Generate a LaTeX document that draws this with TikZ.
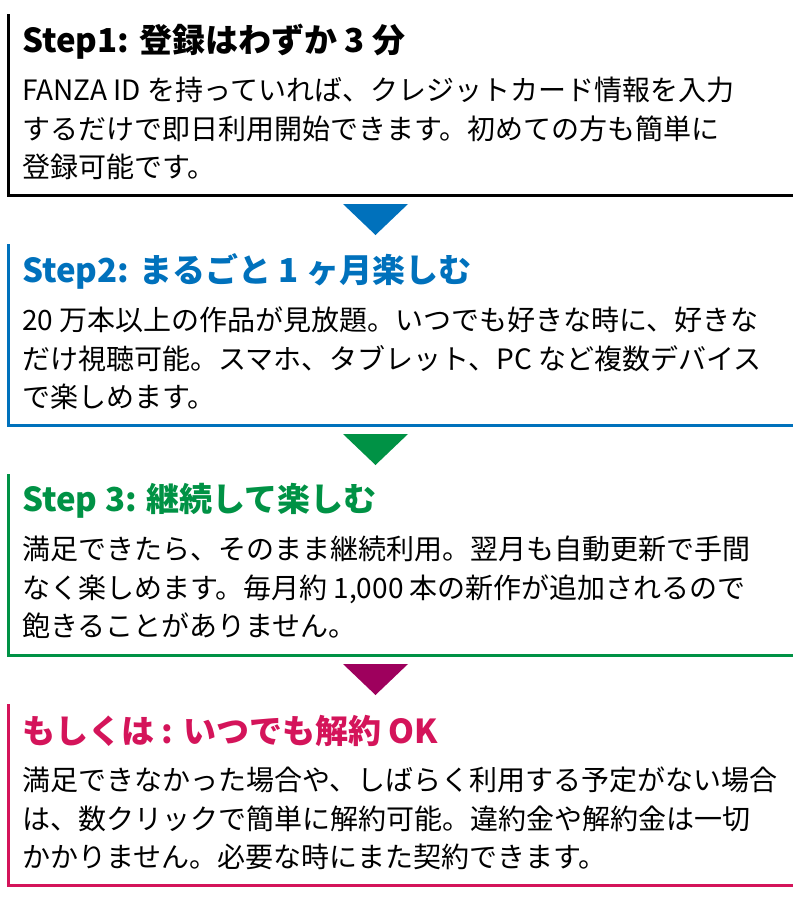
\documentclass[tikz,border=0pt]{standalone}
\usepackage{fontspec}
\setmainfont{Noto Sans CJK JP}
\usetikzlibrary{positioning}
\definecolor{stepblue}{HTML}{0071BC}
\definecolor{stepgreen}{HTML}{009245}
\definecolor{steppurple}{HTML}{9E005D}
\definecolor{steppink}{HTML}{D4145A}
\tikzset{
  steptitle/.style={anchor=west, inner sep=0pt, font=\bfseries\fontsize{33}{38}\selectfont},
  stepbody/.style={anchor=north west, inner sep=0pt, align=left, font=\fontsize{28}{38.5}\selectfont},
  stepframe/.style={line width=3pt, line cap=rect}
}

\begin{document}
\begin{tikzpicture}[x=1pt,y=-1pt]
            \useasboundingbox (0,0) rectangle (800,900);

            % corners of the frames
            \coordinate (f1) at (8,15);   \coordinate (c1) at (8,195);   \coordinate (e1) at (791,195);
            \coordinate (f2) at (8,245);  \coordinate (c2) at (8,425);   \coordinate (e2) at (791,425);
            \coordinate (f3) at (8,475);  \coordinate (c3) at (8,655);   \coordinate (e3) at (791,655);
            \coordinate (f4) at (8,705);  \coordinate (c4) at (8,885);   \coordinate (e4) at (791,885);

            % step 1
            \draw[stepframe, black] (f1) -- (c1) -- (e1);
            \node[steptitle, black] (title1) at (22,42) {Step1: 登録はわずか 3 分};
            \node[stepbody] (body1) at (22,77) {FANZA ID を持っていれば、クレジットカード情報を入力\\するだけで即日利用開始できます。初めての方も簡単に\\登録可能です。};

            % step 2
            \draw[stepframe, stepblue] (f2) -- (c2) -- (e2);
            \node[steptitle, stepblue] (title2) at (22,271) {Step2: まるごと 1 ヶ月楽しむ};
            \node[stepbody] (body2) at (22,307) {20 万本以上の作品が見放題。いつでも好きな時に、好きな\\だけ視聴可能。スマホ、タブレット、PC など複数デバイス\\で楽しめます。};

            % step 3
            \draw[stepframe, stepgreen] (f3) -- (c3) -- (e3);
            \node[steptitle, stepgreen] (title3) at (22,501) {Step 3: 継続して楽しむ};
            \node[stepbody] (body3) at (22,536) {満足できたら、そのまま継続利用。翌月も自動更新で手間\\なく楽しめます。毎月約 1,000 本の新作が追加されるので\\飽きることがありません。};

            % step 4
            \draw[stepframe, steppink] (f4) -- (c4) -- (e4);
            \node[steptitle, steppink] (title4) at (22,731) {もしくは : いつでも解約 OK};
            \node[stepbody] (body4) at (22,767) {満足できなかった場合や、しばらく利用する予定がない場合\\は、数クリックで簡単に解約可能。違約金や解約金は一切\\かかりません。必要な時にまた契約できます。};

            % triangles between the steps
            \coordinate (t1) at (375.5,204);
            \coordinate (t2) at (375.5,434);
            \coordinate (t3) at (375.5,664);
            \fill[stepblue]   (t1) ++(-32.5,0) -- ++(65,0) -- ++(-32.5,31) -- cycle;
            \fill[stepgreen]  (t2) ++(-32.5,0) -- ++(65,0) -- ++(-32.5,31) -- cycle;
            \fill[steppurple] (t3) ++(-32.5,0) -- ++(65,0) -- ++(-32.5,31) -- cycle;
\end{tikzpicture}
\end{document}
